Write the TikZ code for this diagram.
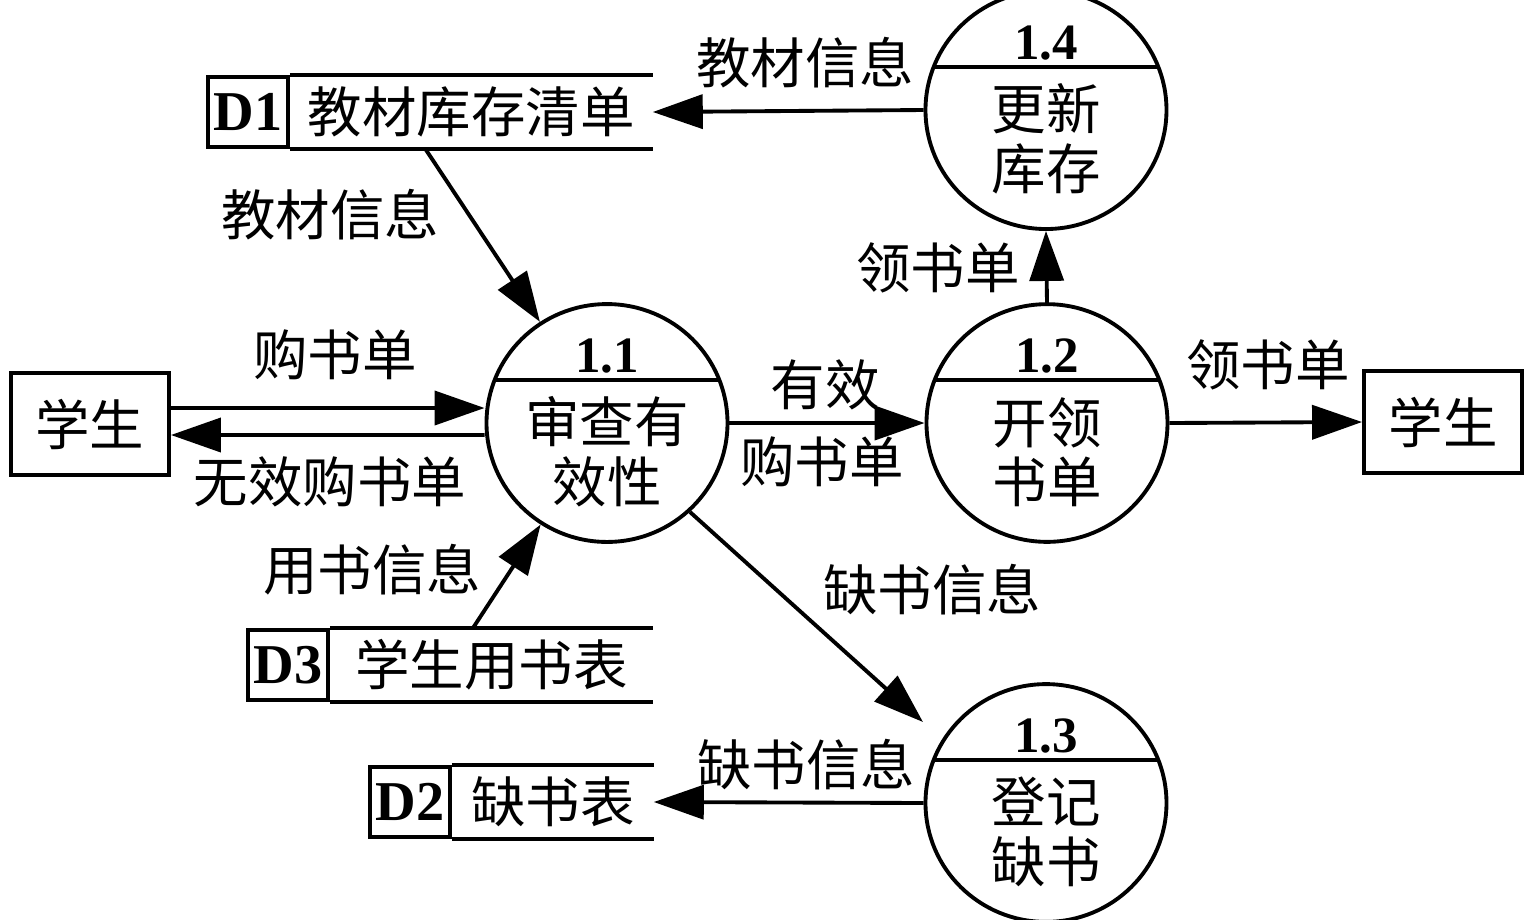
\documentclass[tikz,border=0pt]{standalone}
\usepackage{fontspec}
\setmainfont{Liberation Serif}
\newfontfamily\cjk{Noto Sans CJK SC}
\usepackage{tikz}
\usetikzlibrary{positioning,arrows.meta,calc,shapes.geometric}

\newcommand{\pnum}[1]{{\rmfamily\bfseries\fontsize{14.5pt}{17pt}\selectfont #1}}

\begin{document}
\begin{tikzpicture}[x=0.1mm, y=-0.1mm,
  font=\cjk\fontsize{15.5pt}{17pt}\selectfont,
  line width=1.1pt,
  proc/.style={draw, ellipse, minimum width=2.41cm, minimum height=2.1cm, inner sep=0pt, align=center,
    path picture={\draw ($(path picture bounding box.north west)!0.32!(path picture bounding box.south west)$)
      -- ($(path picture bounding box.north east)!0.32!(path picture bounding box.south east)$);}},
  ext/.style={draw, rectangle, minimum width=1.58cm, minimum height=1.02cm},
  sid/.style={draw, rectangle, minimum width=0.8cm, minimum height=0.7cm, inner sep=0pt,
    font=\rmfamily\bfseries\fontsize{16pt}{18pt}\selectfont},
  sname/.style={rectangle, minimum height=0.7cm, inner sep=0pt, anchor=west},
  flow/.style={-{Triangle[length=5mm, width=3.4mm]}}
]
\useasboundingbox (0,0) rectangle (1536,919);

% external entities
\node[ext] (stu1) at (90,424) {学生};
\node[ext] (stu2) at (1443,422) {学生};

% processes
\node[proc] (p11) at (607,423) {\pnum{1.1}\\[3pt]审查有\\效性};
\node[proc] (p12) at (1047,423) {\pnum{1.2}\\[3pt]开领\\书单};
\node[proc] (p14) at (1046,110) {\pnum{1.4}\\[3pt]更新\\库存};
\node[proc] (p13) at (1046,803) {\pnum{1.3}\\[3pt]登记\\缺书};

% data stores
\node[sid] (d1id) at (248,112) {D1};
\node[sname, minimum width=3.59cm] (d1) at (d1id.east) {教材库存清单};
\node[sid] (d3id) at (288,665) {D3};
\node[sname, minimum width=3.19cm] (d3) at (d3id.east) {学生用书表};
\node[sid] (d2id) at (410,802) {D2};
\node[sname, minimum width=1.98cm] (d2) at (d2id.east) {缺书表};
\foreach \s in {d1,d2,d3} {
  \draw (\s id.north east) -- (\s.north east);
  \draw (\s id.south east) -- (\s.south east);
}

% flows
\draw[flow] ([yshift=1.6mm]stu1.east) -- ([yshift=1.5mm]p11.west);
\draw[flow] ([yshift=-1.2mm]p11.west) -- ([yshift=-1.1mm]stu1.east);
\draw[flow] (p11.east) -- (p12.west);
\draw[flow] (p12.east) -- (stu2.west);
\draw[flow] (p12.north) -- (p14.south);
\draw[flow] (p14.west) -- (d1.east);
\draw[flow] ([xshift=-4.6mm]d1.south) -- (p11);
\draw[flow] ([xshift=1.43cm]d3.north west) -- (p11);
\draw[flow] (p11.-47) -- ([xshift=-1.23cm, yshift=0.81cm]p13.center);
\draw[flow] (p13.west) -- (d2.east);

% flow labels
\node (l1) at (805,63) {教材信息};
\node (l2) at (330,215) {教材信息};
\node (l3) at (335,355) {购书单};
\node (l4) at (330,482) {无效购书单};
\node (l5) at (825,385) {有效};
\node (l6) at (822,462) {购书单};
\node (l7) at (938,268) {领书单};
\node (l8) at (1268,365) {领书单};
\node (l9) at (372,570) {用书信息};
\node (l10) at (932,590) {缺书信息};
\node (l11) at (806,765) {缺书信息};
\end{tikzpicture}
\end{document}
